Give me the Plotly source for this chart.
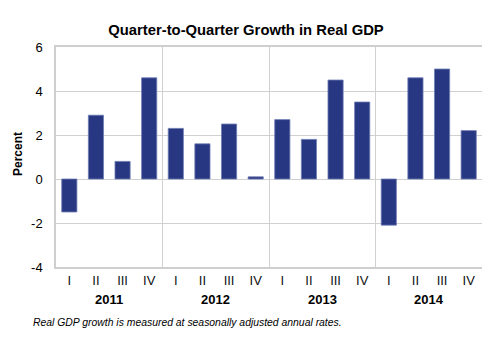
import plotly.graph_objects as go

quarters = ["I", "II", "III", "IV"] * 4
years = ["2011", "2012", "2013", "2014"]
growth = [-1.5, 2.9, 0.8, 4.6,
          2.3, 1.6, 2.5, 0.1,
          2.7, 1.8, 4.5, 3.5,
          -2.1, 4.6, 5.0, 2.2]
y_ticks = [-4, -2, 0, 2, 4, 6]
y_tick_text = ["-4", "-2", "0", "2", "4", "6"]

xs = list(range(len(growth)))
font = "Liberation Sans, Arial, Helvetica, sans-serif"

# page has an 8px body margin; figure is sized to fit within the window
W, H = 482, 347
ML, MR, MT, MB = 48, 8, 39, 88
PW = W - ML - MR
PH = H - MT - MB

fig = go.Figure()
fig.add_trace(go.Bar(
    x=xs, y=growth, width=0.57,
    marker=dict(color="#283782", line=dict(color="#6f7db5", width=0.8)),
    showlegend=False,
))
# invisible trace on xaxis2 for group separators
fig.add_trace(go.Scatter(x=[xs[0]], y=[0], xaxis="x2", mode="markers",
                         marker=dict(opacity=0), showlegend=False, hoverinfo="skip"))

fig.update_layout(
    width=W, height=H,
    margin=dict(l=ML, r=MR, t=MT, b=MB),
    paper_bgcolor="white", plot_bgcolor="white",
    font=dict(family=font, size=13, color="black"),
    title=dict(text="<b>Quarter-to-Quarter Growth in Real GDP</b>",
               x=238 / W, xref="container", xanchor="center",
               y=1 - 22 / H, yref="container", yanchor="middle",
               font=dict(size=14.8, family=font)),
    xaxis=dict(range=[-0.5, len(xs) - 0.5], tickvals=xs, ticktext=quarters,
               showgrid=False, zeroline=False, showline=True, mirror=True,
               linecolor="#cfcfcf", linewidth=1.5, ticks="", ticklabelstandoff=1,
               tickfont=dict(size=13, color="#111"), automargin=False),
    xaxis2=dict(range=[-0.5, len(xs) - 0.5], overlaying="x",
                tickvals=[3.5, 7.5, 11.5], showticklabels=False, ticks="",
                showgrid=True, gridcolor="#d0d0d0", gridwidth=1.2, zeroline=False,
                automargin=False),
    yaxis=dict(range=[-4, 6], tickvals=y_ticks, ticktext=y_tick_text,
               showgrid=True, gridcolor="#d0d0d0",
               gridwidth=1.2, zeroline=True, zerolinecolor="#d0d0d0", zerolinewidth=1.2,
               showline=True, mirror=True, linecolor="#cfcfcf", linewidth=1.5,
               ticks="", ticklabelstandoff=9, tickfont=dict(size=13), automargin=False),
)

fig.add_annotation(x=(10 - ML) / PW, xref="paper", y=(PH - 107) / PH, yref="paper",
                   text="<b>Percent</b>", textangle=-90, showarrow=False,
                   xanchor="center", yanchor="middle", font=dict(size=12))

for i, yr in enumerate(years):
    fig.add_annotation(x=i * 4 + 1.5, xref="x", y=-32 / PH, yref="paper",
                       text=f"<b>{yr}</b>", showarrow=False, yanchor="middle",
                       font=dict(size=13))

fig.add_annotation(x=(23 - ML) / PW, xref="paper", y=-55 / PH, yref="paper",
                   text="<i>Real GDP growth is measured at seasonally adjusted annual rates.</i>",
                   showarrow=False, xanchor="left", yanchor="middle",
                   font=dict(size=10.4))

fig.write_html("out.html")
